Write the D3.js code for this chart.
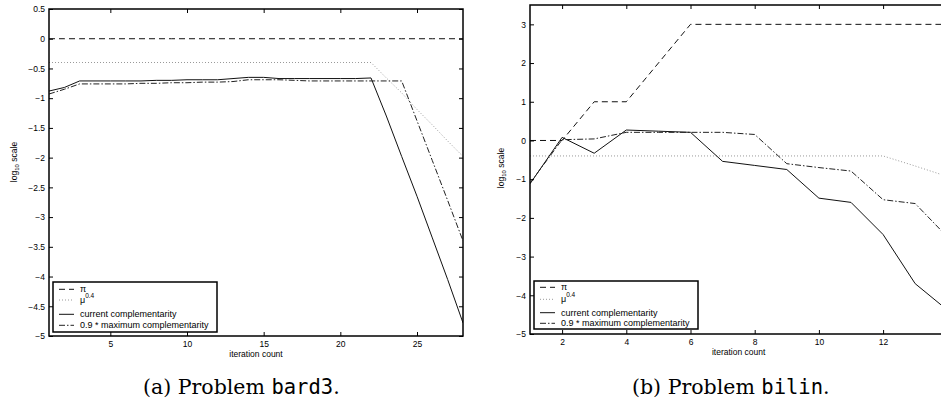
<!DOCTYPE html>
<html><head><meta charset="utf-8">
<script src="https://cdn.jsdelivr.net/npm/d3@7"></script>
<style>
html,body{margin:0;padding:0;background:#fff;}
svg{display:block;}
</style></head>
<body>
<svg id="chart" width="941" height="402"></svg>
<script>
// ---------- data: panel (a) bard3 ----------
const iterA = [1,2,3,4,5,6,7,8,9,10,11,12,13,14,15,16,17,18,19,20,21,22,23,24,25,26,27,28];
const piA   = [0,0,0,0,0,0,0,0,0,0,0,0,0,0,0,0,0,0,0,0,0,0,0,0,0,0,0,0];
const muA   = [-0.4,-0.4,-0.4,-0.4,-0.4,-0.4,-0.4,-0.4,-0.4,-0.4,-0.4,-0.4,-0.4,-0.4,-0.4,-0.4,-0.4,-0.4,-0.4,-0.4,-0.4,-0.4,-0.66,-0.91,-1.19,-1.45,-1.72,-1.98];
const curA  = [-0.88,-0.82,-0.71,-0.71,-0.71,-0.71,-0.71,-0.70,-0.70,-0.69,-0.69,-0.69,-0.67,-0.65,-0.65,-0.67,-0.67,-0.67,-0.67,-0.67,-0.67,-0.66,-1.30,-1.98,-2.65,-3.35,-4.05,-4.78];
const maxA  = [-0.93,-0.85,-0.76,-0.76,-0.76,-0.76,-0.75,-0.75,-0.74,-0.74,-0.73,-0.73,-0.72,-0.69,-0.69,-0.69,-0.70,-0.71,-0.71,-0.71,-0.71,-0.71,-0.71,-0.71,-1.38,-2.05,-2.72,-3.40];
const xTicksA = [5,10,15,20,25];
const yTicksA = [0.5,0,-0.5,-1,-1.5,-2,-2.5,-3,-3.5,-4,-4.5,-5];

// ---------- data: panel (b) bilin ----------
const iterB = [1,2,3,4,5,6,7,8,9,10,11,12,13,14];
const piB   = [0,0,1,1,2,3,3,3,3,3,3,3,3,3];
const muB   = [-0.4,-0.4,-0.4,-0.4,-0.4,-0.4,-0.4,-0.4,-0.4,-0.4,-0.4,-0.4,-0.66,-0.93];
const curB  = [-1.12,0.08,-0.33,0.27,0.24,0.21,-0.54,-0.645,-0.75,-1.49,-1.60,-2.43,-3.70,-4.38];
const maxB  = [-1.10,0.02,0.04,0.21,0.21,0.21,0.21,0.155,-0.60,-0.70,-0.79,-1.53,-1.63,-2.49];
const xTicksB = [2,4,6,8,10,12];
const yTicksB = [3,2,1,0,-1,-2,-3,-4,-5];

const seriesNames = ["\u03c0", "\u03bc", "current complementarity", "0.9 * maximum complementarity"];

const styles = [
  {stroke:"#111", dash:"6,4"},
  {stroke:"#999", dash:"1,2"},
  {stroke:"#111", dash:null},
  {stroke:"#222", dash:"6,2,1.5,2"}
];

const svg = d3.select("#chart");
const fmt = v => (v < 0 ? "\u2212" : "") + Math.abs(v);

function panel(cfg) {
  const g = svg.append("g");
  const x = d3.scaleLinear().domain(cfg.xDomain).range([cfg.left, cfg.right]);
  const y = d3.scaleLinear().domain(cfg.yDomain).range([cfg.bottom, cfg.top]);
  const id = "clip" + cfg.id;
  svg.append("clipPath").attr("id", id).append("rect")
    .attr("x", cfg.left).attr("y", cfg.top)
    .attr("width", cfg.right - cfg.left).attr("height", cfg.bottom - cfg.top);

  // series
  const line = d3.line().x(d => x(d[0])).y(d => y(d[1]));
  cfg.series.forEach((vals, i) => {
    const pts = cfg.iter.map((it, k) => [it, vals[k]]);
    g.append("path").attr("d", line(pts))
      .attr("fill", "none").attr("stroke", styles[i].stroke)
      .attr("stroke-width", 1)
      .attr("stroke-dasharray", styles[i].dash)
      .attr("clip-path", `url(#${id})`);
  });

  const tickFont = "Liberation Sans, Arial, sans-serif";
  const xb = d3.axisBottom(x).tickValues(cfg.xTicks).tickSizeInner(-4).tickSizeOuter(0).tickPadding(5);
  const xt = d3.axisTop(x).tickValues(cfg.xTicks).tickSizeInner(-4).tickSizeOuter(0).tickFormat("");
  const yl = d3.axisLeft(y).tickValues(cfg.yTicks).tickSizeInner(-4).tickSizeOuter(0).tickPadding(4).tickFormat(fmt);
  const yr = d3.axisRight(y).tickValues(cfg.yTicks).tickSizeInner(-4).tickSizeOuter(0).tickFormat("");
  const axStyle = sel => {
    sel.selectAll(".domain").remove();
    sel.selectAll("line").attr("stroke", "#000").attr("stroke-width", 1);
    sel.selectAll("text").attr("font-family", tickFont).attr("font-size", 8.5).attr("fill", "#000");
  };
  g.append("g").attr("transform", `translate(0,${cfg.bottom})`).call(xb).call(axStyle);
  g.append("g").attr("transform", `translate(0,${cfg.top})`).call(xt).call(axStyle);
  g.append("g").attr("transform", `translate(${cfg.left},0)`).call(yl).call(axStyle);
  g.append("g").attr("transform", `translate(${cfg.right},0)`).call(yr).call(axStyle);
  g.append("rect").attr("x", cfg.left).attr("y", cfg.top)
    .attr("width", cfg.right - cfg.left).attr("height", cfg.bottom - cfg.top)
    .attr("fill", "none").attr("stroke", "#000").attr("stroke-width", 1.5);

  g.append("text").attr("x", (cfg.left + cfg.right) / 2).attr("y", cfg.bottom + 21)
    .attr("text-anchor", "middle").attr("font-family", tickFont).attr("font-size", 8.5)
    .text("iteration count");
  const yt = g.append("text")
    .attr("transform", `translate(${cfg.ylabX},${cfg.ylabY}) rotate(-90)`)
    .attr("text-anchor", "middle").attr("font-family", tickFont).attr("font-size", 8.5);
  yt.append("tspan").text("log");
  yt.append("tspan").attr("font-size", 6).attr("dy", 2).text("10");
  yt.append("tspan").attr("dy", -2).text(" scale");

  const L = cfg.legend;
  g.append("rect").attr("x", L.x).attr("y", L.y).attr("width", L.w).attr("height", L.h)
    .attr("fill", "#fff").attr("stroke", "#000").attr("stroke-width", 1.5);
  seriesNames.forEach((name, i) => {
    const ry = L.rows[i];
    g.append("line").attr("x1", L.x + 6).attr("x2", L.x + 21).attr("y1", ry).attr("y2", ry)
      .attr("stroke", styles[i].stroke).attr("stroke-width", 1)
      .attr("stroke-dasharray", styles[i].dash);
    const t = g.append("text").attr("x", L.x + 27).attr("y", ry + 3)
      .attr("font-family", tickFont).attr("font-size", 9).text(name);
    if (i === 1) t.append("tspan").attr("font-size", 6.5).attr("dy", -5).text("0.4");
  });

  const cap = svg.append("text").attr("x", cfg.capX).attr("y", 394)
    .attr("font-family", "DejaVu Serif, serif").attr("font-size", 20.5).attr("fill", "#000");
  cap.append("tspan").text(cfg.capPre);
  cap.append("tspan").attr("font-family", "DejaVu Sans Mono, Liberation Mono, monospace")
    .text(cfg.capCode);
  cap.append("tspan").text(".");
}

panel({
  id: "A", iter: iterA, series: [piA, muA, curA, maxA],
  xDomain: [1, 28], yDomain: [-5, 0.5],
  left: 49, right: 463, top: 9, bottom: 336,
  xTicks: xTicksA, yTicks: yTicksA,
  ylabX: 17, ylabY: 162,
  legend: {x: 53, y: 282, w: 164, h: 50, rows: [289.3, 300, 314.3, 325.3]},
  capX: 143, capPre: "(a) Problem ", capCode: "bard3"
});

panel({
  id: "B", iter: iterB, series: [piB, muB, curB, maxB],
  xDomain: [1, 14], yDomain: [-5, 3.5],
  left: 530, right: 947.3, top: 5, bottom: 334,
  xTicks: xTicksB, yTicks: yTicksB,
  ylabX: 504, ylabY: 168,
  legend: {x: 534, y: 281, w: 164, h: 48, rows: [287.3, 299.3, 312.7, 323.3]},
  capX: 632, capPre: "(b) Problem ", capCode: "bilin"
});
</script>
</body></html>
